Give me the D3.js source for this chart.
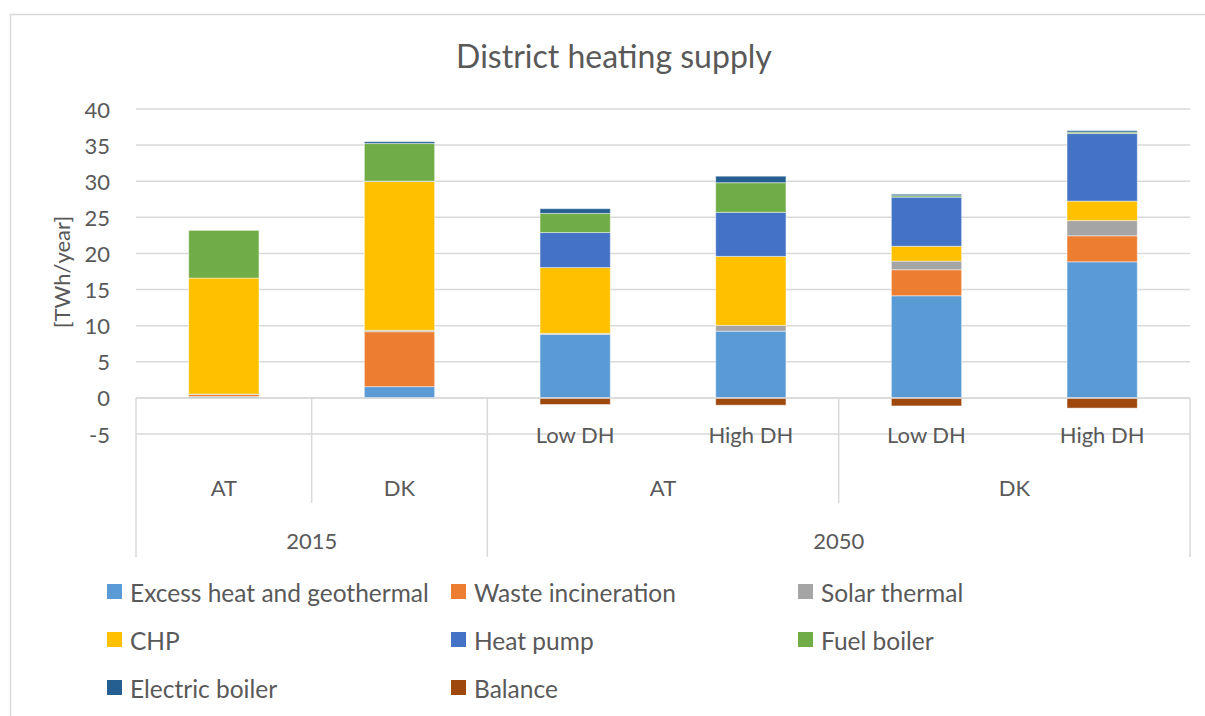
<!DOCTYPE html>
<html>
<head>
<meta charset="utf-8">
<script src="https://cdn.jsdelivr.net/npm/d3@7"></script>
<style>
  body { margin: 0; background: #fff; }
  text { font-family: Lato, "Open Sans", sans-serif; fill: #595959; }
</style>
</head>
<body>
<svg id="chart" width="1205" height="716"></svg>
<script>
// categories (3 levels of the category axis)
const years = ["2015", "2015", "2050", "2050", "2050", "2050"];
const countries = ["AT", "DK", "AT", "AT", "DK", "DK"];
const scenarios = ["", "", "Low DH", "High DH", "Low DH", "High DH"];

const seriesNames = ["Excess heat and geothermal", "Waste incineration", "Solar thermal",
  "CHP", "Heat pump", "Fuel boiler", "Electric boiler", "Balance"];
const seriesColors = ["#5B9BD5", "#ED7D31", "#A5A5A5", "#FFC000", "#4472C4", "#70AD47", "#255E91", "#9E480E"];

// values per series, one per category [TWh/year]
const excessHeat = [0.2, 1.57, 8.8, 9.25, 14.15, 18.85];
const waste = [0.3, 7.6, 0, 0, 3.6, 3.6];
const solar = [0.05, 0.2, 0.15, 0.8, 1.2, 2.1];
const chp = [16.05, 20.6, 9.1, 9.55, 2.05, 2.7];
const heatPump = [0, 0.05, 4.85, 6.1, 6.8, 9.35];
const fuelBoiler = [6.6, 5.2, 2.65, 4.1, 0.2, 0.2];
const electricBoiler = [0, 0.25, 0.65, 0.9, 0.2, 0.2];
const balance = [0, 0, -0.9, -1.0, -1.1, -1.4];

const yTicks = [-5, 0, 5, 10, 15, 20, 25, 30, 35, 40];

const allSeries = [excessHeat, waste, solar, chp, heatPump, fuelBoiler, electricBoiler, balance];
const table = years.map((y, i) => {
  let row = { id: i };
  seriesNames.forEach((s, j) => row[s] = allSeries[j][i]);
  return row;
});

const svg = d3.select("#chart");
const plot = { left: 136, right: 1190, top: 109 };

const x = d3.scaleBand()
  .domain(table.map(d => d.id))
  .range([plot.left, plot.right])
  .paddingInner(0.6)
  .paddingOuter(0.3);

const y = d3.scaleLinear()
  .domain([-5, 40])
  .range([434.1, 109]);

// outer chart border
svg.append("rect")
  .attr("x", 10.5).attr("y", 14.5)
  .attr("width", 1300).attr("height", 800)
  .attr("fill", "none")
  .attr("stroke", "#d9d9d9")
  .attr("stroke-width", 1.5);

// title
svg.append("text")
  .attr("x", 614).attr("y", 55)
  .attr("text-anchor", "middle")
  .attr("dominant-baseline", "central")
  .style("font-size", "32px")
  .text("District heating supply");

// gridlines
svg.append("g")
  .selectAll("line")
  .data(yTicks)
  .enter()
  .append("line")
  .attr("x1", plot.left).attr("x2", plot.right)
  .attr("y1", d => y(d)).attr("y2", d => y(d))
  .attr("stroke", "#d9d9d9")
  .attr("stroke-width", 1.5);

// y tick labels
svg.append("g")
  .selectAll("text")
  .data(yTicks)
  .enter()
  .append("text")
  .attr("x", 110)
  .attr("y", d => y(d))
  .attr("text-anchor", "end")
  .attr("dominant-baseline", "central")
  .style("font-size", "22px")
  .text(d => d);

// y axis title
svg.append("text")
  .attr("transform", "translate(61," + 272 + ") rotate(-90)")
  .attr("text-anchor", "middle")
  .attr("dominant-baseline", "central")
  .style("font-size", "22px")
  .text("[TWh/year]");

// stacked bars
const stack = d3.stack()
  .keys(seriesNames)
  .offset(d3.stackOffsetDiverging);
const layers = stack(table);

svg.append("g")
  .selectAll("g")
  .data(layers)
  .enter()
  .append("g")
  .attr("fill", (d, i) => seriesColors[i])
  .selectAll("rect")
  .data(d => d)
  .enter()
  .append("rect")
  .attr("x", d => x(d.data.id))
  .attr("width", x.bandwidth())
  .attr("y", d => y(Math.max(d[0], d[1])))
  .attr("height", d => Math.abs(y(d[0]) - y(d[1])))
  .attr("stroke", "#ffffff")
  .attr("stroke-opacity", 0.45)
  .attr("stroke-width", 1);

// category axis line
const axisG = svg.append("g");
axisG.append("line")
  .attr("x1", plot.left).attr("x2", plot.right)
  .attr("y1", y(0)).attr("y2", y(0))
  .attr("stroke", "#d9d9d9")
  .attr("stroke-width", 1.5);

// dividers between categories
const n = years.length;
const boundaries = d3.range(n + 1).map(k => {
  let level = 0;
  if (k === 0 || k === n || years[k] !== years[k - 1]) level = 2;
  else if (countries[k] !== countries[k - 1]) level = 1;
  return { k: k, level: level };
}).filter(d => d.level > 0);

axisG.selectAll("line.divider")
  .data(boundaries)
  .enter()
  .append("line")
  .classed("divider", true)
  .attr("x1", d => plot.left + d.k * x.step())
  .attr("x2", d => plot.left + d.k * x.step())
  .attr("y1", y(0))
  .attr("y2", d => d.level === 2 ? 557 : 503)
  .attr("stroke", "#d9d9d9")
  .attr("stroke-width", 1.5);

// scenario labels
axisG.selectAll("text.scen")
  .data(table)
  .enter()
  .append("text")
  .classed("scen", true)
  .attr("x", d => x(d.id) + x.bandwidth() / 2)
  .attr("y", 434)
  .attr("text-anchor", "middle")
  .attr("dominant-baseline", "central")
  .style("font-size", "22px")
  .text(d => scenarios[d.id]);

// group runs for country and year labels
function runs(keys) {
  let out = [];
  keys.forEach((k, i) => {
    if (i > 0 && keys[i - 1] === k) out[out.length - 1].end = i;
    else out.push({ key: k, start: i, end: i });
  });
  return out;
}
const countryKeys = years.map((yr, i) => yr + "|" + countries[i]);
const countryRuns = runs(countryKeys);
const yearRuns = runs(years);

axisG.selectAll("text.country")
  .data(countryRuns)
  .enter()
  .append("text")
  .classed("country", true)
  .attr("x", d => plot.left + (d.start + d.end + 1) / 2 * x.step())
  .attr("y", 487)
  .attr("text-anchor", "middle")
  .attr("dominant-baseline", "central")
  .style("font-size", "22px")
  .text(d => countries[d.start]);

axisG.selectAll("text.year")
  .data(yearRuns)
  .enter()
  .append("text")
  .classed("year", true)
  .attr("x", d => plot.left + (d.start + d.end + 1) / 2 * x.step())
  .attr("y", 540)
  .attr("text-anchor", "middle")
  .attr("dominant-baseline", "central")
  .style("font-size", "22px")
  .text(d => d.key);

// legend
const legendCols = [107, 451, 798];
const legendRows = [592, 640, 688];
const legend = svg.append("g")
  .selectAll("g")
  .data(seriesNames)
  .enter()
  .append("g")
  .attr("transform", (d, i) => "translate(" + legendCols[i % 3] + "," + legendRows[Math.floor(i / 3)] + ")");

legend.append("rect")
  .attr("x", 0).attr("y", -8)
  .attr("width", 15).attr("height", 15)
  .attr("fill", (d, i) => seriesColors[i]);

legend.append("text")
  .attr("x", 23)
  .attr("y", 0)
  .attr("dominant-baseline", "central")
  .style("font-size", "24.5px")
  .text(d => d);
</script>
</body>
</html>
